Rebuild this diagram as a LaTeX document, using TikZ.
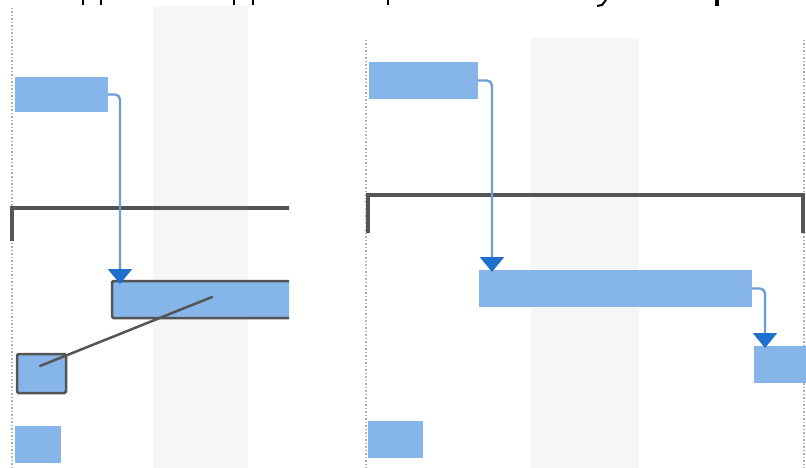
\documentclass[tikz,border=0pt]{standalone}
\usetikzlibrary{arrows.meta}
\definecolor{barblue}{HTML}{86B5EA}
\definecolor{linkblue}{HTML}{6C9ED6}
\definecolor{headblue}{HTML}{1F6FCC}
\definecolor{sumgray}{HTML}{555555}
\definecolor{bandgray}{HTML}{F6F6F6}
\definecolor{dotgray}{HTML}{B0B0B0}
\tikzset{
  taskbar/.style={rectangle, fill=barblue, draw=none, inner sep=0pt, outer sep=0pt, anchor=north west},
  selbar/.style={taskbar, draw=sumgray, line width=2.5pt, rounded corners=1.5pt},
  link/.style={draw=linkblue, line width=2.3pt, rounded corners=5pt,
    -{Triangle[length=15pt,width=24pt,color=headblue]}},
  summary/.style={draw=sumgray, line width=4pt},
  band/.style={fill=bandgray, draw=none},
  gridline/.style={draw=dotgray, line width=1.2pt, dash pattern=on 1.5pt off 2pt},
  dragline/.style={draw=sumgray, line width=2.5pt, line cap=round},
  frag/.style={draw=black, line width=2pt}
}
\begin{document}
\begin{tikzpicture}[x=1pt,y=-1pt]
\useasboundingbox (0,0) rectangle (806,468);
\fill[white] (0,0) rectangle (806,468);
% ---- left panel ----
\begin{scope}
\clip (0,0) rectangle (289,468);
\fill[band] (153,6) rectangle (248,468);
\draw[gridline] (12,8) -- (12,468);
\node[taskbar, minimum width=93pt, minimum height=35pt] (L1) at (15,77) {};
\draw[summary] (12,241) -- (12,208) -- (300,208);
\node[selbar, minimum width=200pt, minimum height=37pt] (L2) at (112,281) {};
\draw[link] (L1.east) -| ([xshift=8pt,yshift=-3pt]L2.north west);
\node[selbar, minimum width=49pt, minimum height=39pt] (L3) at (17,354) {};
\node[taskbar, minimum width=46pt, minimum height=37pt] (L4) at (15,426) {};
\coordinate (dragA) at (212,297);
\coordinate (dragB) at (40,366);
\draw[dragline] (dragA) -- (dragB);
\end{scope}
% ---- right panel ----
\fill[band] (531,38) rectangle (639,468);
\draw[gridline] (366,40) -- (366,468);
\draw[gridline] (804,40) -- (804,468);
\node[taskbar, minimum width=109pt, minimum height=37pt] (R1) at (369,62) {};
\draw[summary] (368,233) -- (368,195) -- (803,195) -- (803,233);
\node[taskbar, minimum width=273pt, minimum height=37pt] (R2) at (479,270) {};
\node[taskbar, minimum width=55pt, minimum height=37pt] (R3) at (754,346) {};
\node[taskbar, minimum width=55pt, minimum height=37pt] (R4) at (368,421) {};
\draw[link] (R1.east) -| ([xshift=13pt,yshift=-2pt]R2.north west);
\draw[link] (R2.east) -| ([xshift=11pt,yshift=-2pt]R3.north west);
% ---- cut-off text fragments at the top ----
\draw[frag] (83,0) -- (83,5);
\draw[frag] (101,0) -- (101,5);
\draw[frag] (234,0) -- (234,5);
\draw[frag] (253,0) -- (253,5);
\draw[frag] (388,0) -- (388,5);
\draw[frag] (606,0) -- (602,5) -- (597,6);
\draw[frag, line width=4pt] (717,0) -- (717,6);
\end{tikzpicture}
\end{document}
